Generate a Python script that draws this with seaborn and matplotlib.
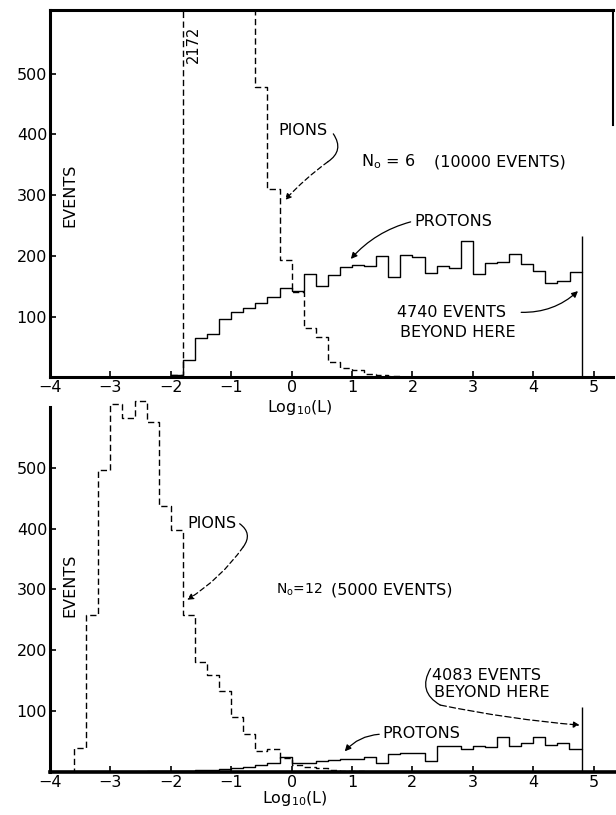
import numpy as np
import pandas as pd
import matplotlib
matplotlib.use("Agg")
import matplotlib.pyplot as plt
import seaborn as sns

# ---------------- data (bin width 0.2 in log10(L)) ----------------
BIN = 0.2
# top panel: N0 = 6 (10000 events)
top_pion_start = -2.0
top_pion_counts = [3, 2172, 1750, 1500, 1300, 1090, 850, 478, 310, 193, 140,
                   82, 66, 26, 16, 12, 6, 3, 2, 1, 0]
top_proton_start = -2.0
top_proton_counts = [4, 28, 64, 71, 96, 107, 114, 122, 132, 147, 142,
                     170, 150, 168, 182, 185, 184, 200, 166, 201, 198, 172,
                     184, 180, 224, 170, 188, 190, 203, 186, 175, 156, 158, 174]
top_cut_height = 232

# bottom panel: N0 = 12 (5000 events)
bot_pion_start = -3.8
bot_pion_counts = [0, 40, 258, 496, 605, 581, 610, 575, 437, 397, 258, 181,
                   159, 133, 90, 62, 34, 37, 23, 12, 8, 6, 4, 2, 1, 0]
bot_proton_start = -2.4
bot_proton_counts = [1, 1, 2, 2, 3, 4, 5, 7, 9, 11, 14, 24,
                     14, 15, 18, 20, 21, 22, 24, 15, 29, 31, 32, 18, 42, 42,
                     37, 42, 41, 58, 42, 47, 58, 45, 48, 37]
bot_cut_height = 107

cutoff = 4.8
xticks = [-4, -3, -2, -1, 0, 1, 2, 3, 4, 5]
yticks = [100, 200, 300, 400, 500]

# ---------------- figure ----------------
sns.set_style("ticks")
plt.rcParams["font.family"] = ["DejaVu Sans"]
plt.rcParams["text.color"] = "black"
plt.rcParams["axes.labelcolor"] = "black"
W, H = 616, 815
fig = plt.figure(figsize=(W / 100, H / 100), dpi=100)

def px_axes(left, top, right, bottom):
    return fig.add_axes([left / W, 1 - bottom / H, (right - left) / W, (bottom - top) / H])

ax1 = px_axes(50, 10, 613, 377.3)
ax2 = px_axes(50, 399.6, 616, 772)

DASH = (0, (4.5, 2.5))

def draw_hist(ax, start, counts, ls):
    counts = np.asarray(counts, dtype=float)
    edges = start + BIN * np.arange(len(counts) + 1)
    df = pd.DataFrame({"center": edges[:-1] + BIN / 2, "count": counts})
    sns.histplot(data=df, x="center", weights="count", bins=[float(e) for e in edges],
                 element="step", fill=False, color="black", linewidth=1.0,
                 linestyle=ls, ax=ax)

for ax, ps, pc, qs, qc, ch in [
    (ax1, top_pion_start, top_pion_counts, top_proton_start, top_proton_counts, top_cut_height),
    (ax2, bot_pion_start, bot_pion_counts, bot_proton_start, bot_proton_counts, bot_cut_height),
]:
    draw_hist(ax, ps, pc, DASH)
    draw_hist(ax, qs, qc, "-")
    ax.vlines(cutoff, 0, ch, color="black", lw=1.0)
    ax.set_xticks(xticks)
    ax.set_yticks(yticks)
    ax.set_xlabel("")
    ax.set_ylabel("")
    ax.tick_params(direction="in", length=4, width=1.2, labelsize=11.5, pad=2,
                   colors="black", labelcolor="black")
    for s in ax.spines.values():
        s.set_color("black")

ax1.set_xlim(-4.0, 5.32)
ax1.set_ylim(0, 605)
for s in ["left", "bottom", "top"]:
    ax1.spines[s].set_linewidth(2.2)
ax1.spines["right"].set_visible(True)
ax1.spines["right"].set_linewidth(1.5)
ax1.spines["right"].set_bounds(415, 605)
ax1.spines["top"].set_visible(True)

ax2.set_xlim(-4.0, 5.37)
ax2.set_ylim(0, 612)
ax2.spines["left"].set_linewidth(2.2)
ax2.spines["bottom"].set_linewidth(2.6)
ax2.spines["left"].set_bounds(0, 600)
ax2.spines["top"].set_visible(False)
ax2.spines["right"].set_visible(False)

FS = 11.5
AP = dict(arrowstyle="-|>", color="black", lw=0.9, mutation_scale=9,
          shrinkA=0, shrinkB=0)
LN = dict(arrowstyle="-", color="black", lw=0.9, shrinkA=0, shrinkB=0)

# ----- top panel texts -----
ax1.text(-1.63, 548, "2172", rotation=90, ha="center", va="center", fontsize=10.5)
ax1.text(-3.67, 300, "EVENTS", rotation=90, ha="center", va="center", fontsize=FS)
ax1.text(-0.22, 406, "PIONS", ha="left", va="center", fontsize=FS)
ax1.annotate("", xy=(0.60, 355), xytext=(0.69, 401),
             arrowprops=dict(LN, connectionstyle="arc3,rad=-0.5"))
ax1.annotate("", xy=(-0.11, 292), xytext=(0.60, 355),
             arrowprops=dict(AP, linestyle=(0, (4, 2.5)), connectionstyle="arc3,rad=0.05"))
ax1.text(1.15, 355, r"N$_\mathregular{o}$ = 6", ha="left", va="center", fontsize=FS)
ax1.text(2.36, 355, "(10000 EVENTS)", ha="left", va="center", fontsize=FS)
ax1.text(2.04, 256, "PROTONS", ha="left", va="center", fontsize=FS)
ax1.annotate("", xy=(0.98, 195), xytext=(1.97, 256),
             arrowprops=dict(AP, connectionstyle="arc3,rad=0.15"))
ax1.text(1.75, 106, "4740 EVENTS", ha="left", va="center", fontsize=FS)
ax1.text(1.79, 73, "BEYOND HERE", ha="left", va="center", fontsize=FS)
ax1.annotate("", xy=(4.74, 142), xytext=(3.80, 107),
             arrowprops=dict(AP, connectionstyle="arc3,rad=0.2"))

# ----- bottom panel texts -----
ax2.text(-3.67, 307, "EVENTS", rotation=90, ha="center", va="center", fontsize=FS)
ax2.text(-1.72, 409, "PIONS", ha="left", va="center", fontsize=FS)
ax2.annotate("", xy=(-0.80, 370), xytext=(-0.86, 408),
             arrowprops=dict(LN, connectionstyle="arc3,rad=-0.5"))
ax2.annotate("", xy=(-1.73, 283), xytext=(-0.80, 370),
             arrowprops=dict(AP, linestyle=(0, (4, 2.5)), connectionstyle="arc3,rad=-0.1"))
ax2.text(0.52, 299, r"N$_\mathregular{o}$=12", ha="right", va="center", fontsize=10)
ax2.text(0.66, 299, "(5000 EVENTS)", ha="left", va="center", fontsize=FS)
ax2.text(2.32, 159, "4083 EVENTS", ha="left", va="center", fontsize=FS)
ax2.text(2.36, 130, "BEYOND HERE", ha="left", va="center", fontsize=FS)
ax2.annotate("", xy=(2.46, 110), xytext=(2.30, 170),
             arrowprops=dict(LN, connectionstyle="arc3,rad=0.5"))
ax2.annotate("", xy=(4.77, 77), xytext=(2.46, 110),
             arrowprops=dict(AP, linestyle=(0, (5, 2.5)), connectionstyle="arc3,rad=0.03"))
ax2.text(1.50, 64, "PROTONS", ha="left", va="center", fontsize=FS)
ax2.annotate("", xy=(0.88, 34), xytext=(1.45, 62),
             arrowprops=dict(AP, connectionstyle="arc3,rad=0.2"))

# ----- axis labels -----
fig.text(300 / W, 1 - 398 / H, r"Log$_{10}$(L)", ha="center", va="top", fontsize=FS)
fig.text(295 / W, 1 - 789 / H, r"Log$_{10}$(L)", ha="center", va="top", fontsize=FS)

fig.savefig("out.png", dpi=100, facecolor="white")
